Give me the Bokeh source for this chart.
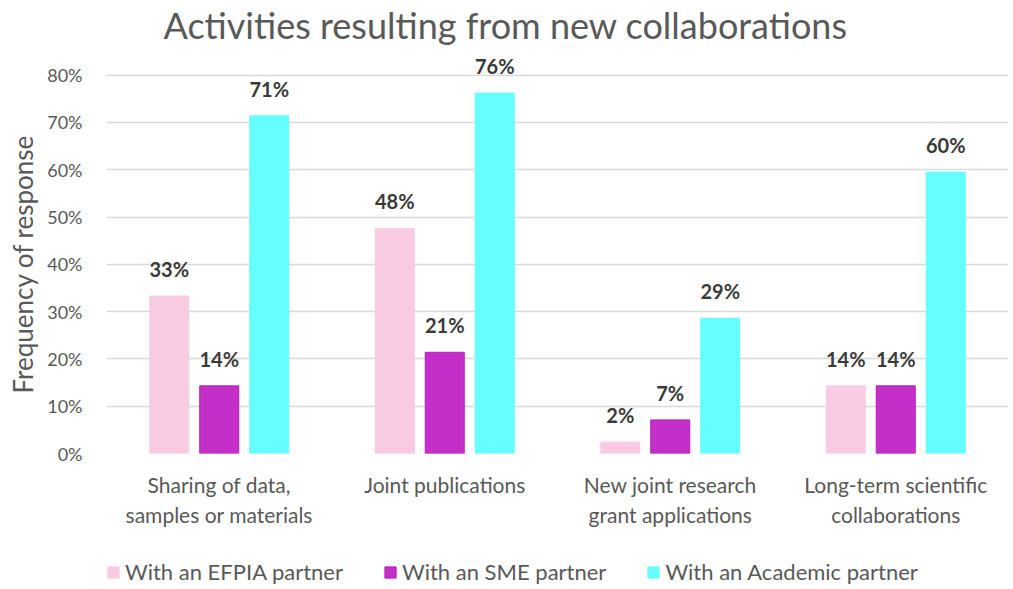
from bokeh.plotting import figure
from bokeh.layouts import column
from bokeh.models import (ColumnDataSource, FactorRange, Range1d, NumeralTickFormatter,
                          FixedTicker, Legend, LegendItem, Title)
from bokeh.transform import dodge
from bokeh.core.properties import value
from bokeh.embed import file_html
from bokeh.resources import INLINE

# ---- data ----
categories = ["Sharing of data,\nsamples or materials", "Joint publications",
              "New joint research\ngrant applications", "Long-term scientific\ncollaborations"]
series_keys = ["efpia", "sme", "academic"]
series_names = ["With an EFPIA partner", "With an SME partner", "With an Academic partner"]
efpia = [0.333, 0.476, 0.024, 0.143]
sme = [0.143, 0.214, 0.071, 0.143]
academic = [0.714, 0.762, 0.286, 0.595]
y_ticks = [0.0, 0.1, 0.2, 0.3, 0.4, 0.5, 0.6, 0.7, 0.8]
title_text = "Activities resulting from new collaborations"
y_label = "Frequency of response"

# ---- style ----
FONT = "Lato"
fill_colors = ["#F8CBE3", "#C52FC9", "#66FFFF"]
line_colors = ["#F8CBE3", "#B81DBC", "#66FFFF"]
offsets = [-0.2216, 0.0, 0.2216]
BAR_W = 0.173
TEXT = "#595959"

src = ColumnDataSource(dict(
    cats=categories, efpia=efpia, sme=sme, academic=academic,
    efpia_lbl=[f"{round(v*100)}%" for v in efpia],
    sme_lbl=[f"{round(v*100)}%" for v in sme],
    academic_lbl=[f"{round(v*100)}%" for v in academic],
))

x_range = FactorRange(*categories)

p = figure(x_range=x_range, y_range=Range1d(0, 0.85),
           width=1013, height=550, output_backend="svg", toolbar_location=None,
           min_border_left=105, min_border_right=5, min_border_top=51, min_border_bottom=97)

p.title.text = title_text
p.title.align = "left"
p.title.offset = 57
p.title.vertical_align = "top"
p.title.standoff = 5
p.title.text_font = FONT
p.title.text_font_size = "36px"
p.title.text_font_style = "normal"
p.title.text_color = TEXT

renderers = []
for key, off, fc, lc in zip(series_keys, offsets, fill_colors, line_colors):
    r = p.vbar(x=dodge("cats", off, range=p.x_range), top=key, width=BAR_W, source=src,
               fill_color=fc, line_color=lc, line_width=1)
    renderers.append(r)
    p.text(x=dodge("cats", off, range=p.x_range), y=key, text=key + "_lbl", source=src,
           text_font=value(FONT), text_font_style="bold", text_font_size="20px",
           text_color="#3A3A3A", text_align="center", text_baseline="alphabetic", y_offset=-27)

p.outline_line_color = None
p.xgrid.visible = False
p.ygrid.ticker = FixedTicker(ticks=y_ticks)
p.ygrid.grid_line_color = "#D9D9D9"
p.ygrid.grid_line_width = 1.4

p.yaxis.ticker = FixedTicker(ticks=y_ticks)
p.yaxis.formatter = NumeralTickFormatter(format="0%")
p.yaxis.axis_line_color = None
p.yaxis.major_tick_line_color = None
p.yaxis.minor_tick_line_color = None
p.yaxis.major_tick_out = 0
p.yaxis.major_label_standoff = 24
p.yaxis.major_label_text_font = FONT
p.yaxis.major_label_text_font_size = "18px"
p.yaxis.major_label_text_color = TEXT

# y-axis title, anchored to the 0% end of the value axis like the original
y_title = Title(text=y_label, align="left", offset=60, vertical_align="middle", standoff=10,
                text_font=FONT, text_font_size="26px", text_font_style="normal",
                text_color=TEXT)
p.add_layout(y_title, "left")

p.xaxis.axis_line_color = None
p.xaxis.major_tick_line_color = None
p.xaxis.major_tick_out = 0
p.xaxis.major_label_standoff = 18
p.xaxis.major_label_text_font = FONT
p.xaxis.major_label_text_font_size = "21px"
p.xaxis.major_label_text_color = TEXT
p.xaxis.major_label_text_line_height = 1.2

# ---- legend strip (same series, drawn outside its visible y-range so only the legend shows) ----
p2 = figure(x_range=x_range, y_range=Range1d(10, 11), width=1013, height=39,
            output_backend="svg", toolbar_location=None,
            x_axis_location=None, y_axis_location=None,
            min_border_left=0, min_border_right=0, min_border_top=0, min_border_bottom=0)
p2.outline_line_color = None
p2.grid.visible = False
leg_renderers = []
for key, off, fc, lc in zip(series_keys, offsets, fill_colors, line_colors):
    r2 = p2.vbar(x=dodge("cats", off, range=p2.x_range), top=key, width=BAR_W, source=src,
                 fill_color=fc, line_color=lc, line_width=1)
    leg_renderers.append(r2)

legend = Legend(items=[LegendItem(label=n, renderers=[r]) for n, r in zip(series_names, leg_renderers)],
                orientation="horizontal", location=(0, 4),
                glyph_width=14, glyph_height=14, label_standoff=5, spacing=40,
                padding=0, margin=0, border_line_color=None, background_fill_alpha=0,
                label_text_font=FONT, label_text_font_size="22px", label_text_color=TEXT)
p2.add_layout(legend, "center")

layout = column(p, p2, spacing=0)
open("out.html", "w").write(file_html(layout, INLINE))
